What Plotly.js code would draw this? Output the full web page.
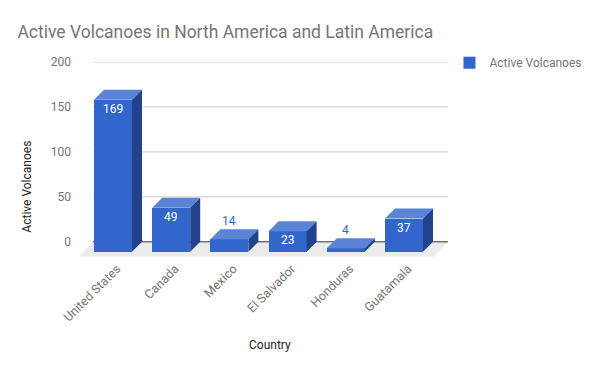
<!DOCTYPE html>
<html><head><meta charset="utf-8">
<script src="https://cdn.plot.ly/plotly-3.0.1.min.js"></script>
<style>html,body{margin:0;padding:0;background:#fff}#chart{width:600px;height:371px}</style>
</head><body><div id="chart"></div>
<script>
const categories = ["United States", "Canada", "Mexico", "El Salvador", "Honduras", "Guatamala"];
const volcanoes = [169, 49, 14, 23, 4, 37];
const seriesName = "Active Volcanoes";
const yTicks = [0, 50, 100, 150, 200];

// geometry (x axis in pixel-like units, y axis in value units)
const PX = 0.9;                 // px per value unit
const firstCenter = 113, spacing = 58.2, barW = 38;
const depthX = 10, depthY = 10 / PX;   // 3D depth offset
const frontCenters = categories.map((c, i) => firstCenter + i * spacing);

const front = '#3366cc', topC = '#5b84d7', sideC = '#22438c';
const traces = [];
traces.push({
  type: 'bar', name: seriesName, x: frontCenters, y: volcanoes,
  base: volcanoes.map(() => -depthY), width: barW,
  marker: {color: front, line: {width: 0}}, hoverinfo: 'skip', showlegend: true
});
volcanoes.forEach((v, i) => {
  const xl = frontCenters[i] - barW / 2, xr = frontCenters[i] + barW / 2, ft = v - depthY, fb = -depthY;
  traces.push({type: 'scatter', mode: 'lines', fill: 'toself', fillcolor: topC, line: {width: 0},
    x: [xl, xr, xr + depthX, xl + depthX, xl], y: [ft, ft, v, v, ft], showlegend: false, hoverinfo: 'skip'});
  traces.push({type: 'scatter', mode: 'lines', fill: 'toself', fillcolor: sideC, line: {width: 0},
    x: [xr, xr + depthX, xr + depthX, xr, xr], y: [fb, 0, v, ft, fb], showlegend: false, hoverinfo: 'skip'});
});

const shapes = [];
// floor
shapes.push({type: 'path', xref: 'x', yref: 'y', layer: 'below', line: {width: 0}, fillcolor: '#ebebeb',
  path: `M 93 0 L 448 0 L 434 ${-15/PX} L 79 ${-15/PX} Z`});
yTicks.forEach(t => {
  if (t === 0) return;
  shapes.push({type: 'line', xref: 'x', yref: 'y', layer: 'below', x0: 93, x1: 448, y0: t, y1: t,
    line: {color: '#cccccc', width: 1}});
});
shapes.push({type: 'line', xref: 'x', yref: 'y', layer: 'below', x0: 93, x1: 448, y0: 0, y1: 0,
  line: {color: '#333333', width: 1}});

const annotations = volcanoes.map((v, i) => {
  const inside = v > 20;
  return {x: frontCenters[i], y: inside ? v - depthY : v, xref: 'x', yref: 'y', text: String(v), showarrow: false,
    yanchor: inside ? 'top' : 'bottom', yshift: inside ? 0 : -1,
    font: {family: 'Roboto', size: 12, color: inside ? '#ffffff' : '#3366cc'}};
});
annotations.push({xref: 'paper', yref: 'paper', x: -0.142, y: 0.362, text: 'Active Volcanoes', textangle: -90,
  showarrow: false, xanchor: 'center', yanchor: 'middle', font: {family: 'Roboto', size: 12, color: '#222222'}});
annotations.push({xref: 'paper', yref: 'paper', x: 0.517, y: -0.445, text: 'Country',
  showarrow: false, xanchor: 'center', yanchor: 'middle', font: {family: 'Roboto', size: 12, color: '#222222'}});

const layout = {
  width: 600, height: 371,
  margin: {l: 79, r: 152, t: 62, b: 113, pad: 0, autoexpand: false},
  paper_bgcolor: '#ffffff', plot_bgcolor: 'rgba(0,0,0,0)',
  font: {family: 'Roboto', size: 12, color: '#757575'},
  title: {text: 'Active Volcanoes in North America and Latin America', x: 0.029, xref: 'container', xanchor: 'left',
    y: 1 - 32 / 371, yref: 'container', yanchor: 'middle', font: {family: 'Roboto', size: 17.5, color: '#757575'}},
  xaxis: {range: [79, 448], showgrid: false, zeroline: false, showline: false, ticks: '', automargin: false,
    tickmode: 'array', tickvals: frontCenters.map(c => c + 4), ticktext: categories, tickangle: -45,
    tickfont: {family: 'Roboto', size: 12.5, color: '#757575'}, fixedrange: true},
  yaxis: {range: [-18, 200], showgrid: false, zeroline: false, showline: false, ticks: '', automargin: false,
    tickmode: 'array', tickvals: yTicks, ticktext: yTicks.map(String), ticklabelstandoff: 7,
    tickfont: {family: 'Roboto', size: 12, color: '#757575'}, fixedrange: true},
  showlegend: true,
  legend: {x: 1.004, xanchor: 'left', y: 1.07, yanchor: 'top', font: {family: 'Roboto', size: 12, color: '#757575'},
    bgcolor: 'rgba(0,0,0,0)', itemwidth: 30},
  shapes: shapes, annotations: annotations, bargap: 0
};
Plotly.newPlot('chart', traces, layout, {displayModeBar: false, staticPlot: true});
</script></body></html>
